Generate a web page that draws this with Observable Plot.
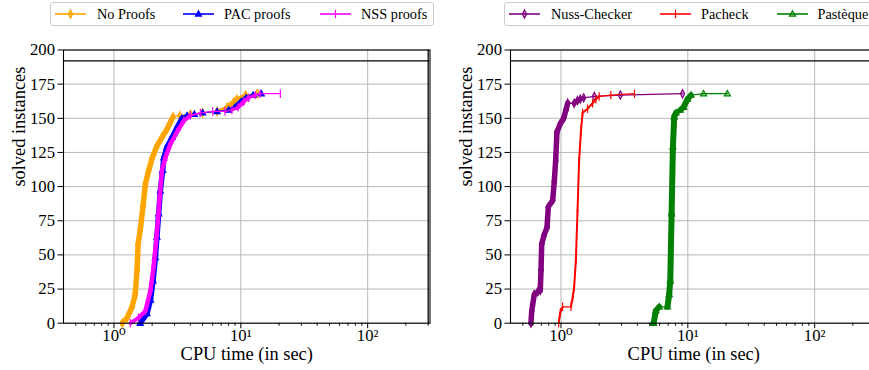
<!DOCTYPE html>
<html><head><meta charset="utf-8">
<script src="https://cdn.jsdelivr.net/npm/d3@7"></script>
<script src="https://cdn.jsdelivr.net/npm/@observablehq/plot@0.6"></script>
<style>
html,body{margin:0;padding:0;width:869px;height:370px;overflow:hidden;background:#fff;font-family:"Liberation Serif","DejaVu Serif",serif;}
.legend{position:absolute;top:2px;height:24px;border:1px solid #cccccc;border-radius:3px;background:#fff;box-sizing:border-box;}
.item{position:absolute;top:2px;height:24px;display:flex;align-items:center;font-size:14.3px;color:#000;white-space:nowrap;font-family:"Liberation Serif","DejaVu Serif",serif;}
.chart{position:absolute;top:40px;width:440px;height:330px;}
.chart svg{max-width:none !important;}
</style></head><body>
<div class="legend" style="left:50px;width:384px"></div>
<div class="legend" style="left:504px;width:420px"></div>
<div id="items"></div>
<div id="c1" class="chart" style="left:0px"></div>
<div id="c2" class="chart" style="left:447px"></div>
<script>
// ---- data (CPU time in sec, solved instances) ----
const noProofsT = [1.16,1.27,1.39,1.47,1.52,1.55,1.61,1.69,1.77,1.88,2.0,2.19,2.39,2.62,2.78,2.92,3.3,4.0,5.0,6.5,7.8,8.8,9.3,10.9,13.5];
const noProofsN = [0,4,12,21,39,58,68,85,102,112,121,130,136,142,147,151,152,153,154,155,158,162,164,167,168];
const pacT = [1.61,1.82,1.94,2.03,2.12,2.18,2.25,2.32,2.42,2.47,2.62,2.87,3.14,3.44,3.77,4.3,5.0,6.5,8.0,9.0,10.0,11.0,12.5,14.5];
const pacN = [0,7,17,31,48,63,80,97,112,121,129,136,143,150,152,153,154,155,156,158,162,165,167,168];
const nssT = [1.35,1.56,1.77,1.94,2.05,2.14,2.22,2.29,2.39,2.54,2.78,3.14,3.54,4.0,4.8,6.0,7.5,8.5,9.5,10.5,11.5,13.0,14.2,20.5];
const nssN = [0,4,9,24,41,58,75,92,112,121,131,140,148,152,154,155,155,156,158,162,165,167,168,168];
const nussT = [0.58,0.588,0.616,0.655,0.687,0.696,0.705,0.739,0.776,0.794,0.86,0.886,0.908,0.93,0.988,1.05,1.095,1.13,1.27,1.35,1.42,1.51,1.83,2.94,9.08];
const nussN = [0,9,21,23,24,39,58,65,70,85,90,104,119,140,146,150,156,161,161,163,164,165,166,167,168];
const pacheckT = [0.958,0.988,1.03,1.2,1.236,1.27,1.31,1.35,1.39,1.437,1.48,1.62,1.775,1.885,2.0,2.47,3.8];
const pacheckN = [0,8,12,12,19,26,46,82,119,141,154,157,161,164,166,167,168];
const pastequeT = [5.37,5.6,5.95,6.91,7.13,7.27,7.45,7.63,7.81,8.06,8.7,9.24,9.95,10.6,13.3,20.5];
const pastequeN = [0,9,12,12,21,31,80,129,151,154,156,158,164,167,168,168];

const yTicks = [0,25,50,75,100,125,150,175,200];
const xMajorTicks = [1,10,100];
const xTickLabels = ["10\u2070","10\u00B9","10\u00B2"];
const totalInstances = 192;
const timeout = 300;
const xLabel = "CPU time (in sec)";
const yLabel = "solved instances";

// ---- custom marker shapes ----
const thinDiamond = {draw(c,s){const r=Math.sqrt(s/Math.PI);c.moveTo(0,-r*1.2);c.lineTo(r*0.6,0);c.lineTo(0,r*1.2);c.lineTo(-r*0.6,0);c.closePath();}};
const vline = {draw(c,s){const r=Math.sqrt(s/Math.PI);c.moveTo(0,-r);c.lineTo(0,r);}};
const tri = {draw(c,s){const r=Math.sqrt(s/Math.PI);c.moveTo(0,-r);c.lineTo(r*0.95,r*0.65);c.lineTo(-r*0.95,r*0.65);c.closePath();}};

const leftSeries = [
  {name:"No Proofs", t:noProofsT, n:noProofsN, color:"orange", sym:thinDiamond, r:3.4, fill:0.6, dense:5.5, thin:1.3},
  {name:"PAC proofs", t:pacT, n:pacN, color:"blue", sym:tri, r:3.2, fill:1, dense:5.5, thin:1.3},
  {name:"NSS proofs", t:nssT, n:nssN, color:"magenta", sym:vline, r:4.2, fill:0, dense:4.5, thin:1.3}
];
const rightSeries = [
  {name:"Nuss-Checker", t:nussT, n:nussN, color:"purple", sym:thinDiamond, r:3.4, fill:0.3, dense:5.5, thin:1.3},
  {name:"Pacheck", t:pacheckT, n:pacheckN, color:"red", sym:vline, r:4.2, fill:0, dense:2, thin:1.3},
  {name:"Pastèque", t:pastequeT, n:pastequeN, color:"green", sym:tri, r:3.2, fill:0.3, dense:6, thin:1.3}
];

// ---- legends ----
const legendLayout = [
  {s:leftSeries[0], lx:55, tx:97}, {s:leftSeries[1], lx:183, tx:224}, {s:leftSeries[2], lx:320, tx:361},
  {s:rightSeries[0], lx:509, tx:551}, {s:rightSeries[1], lx:660, tx:701}, {s:rightSeries[2], lx:777, tx:817.5}
];
const itemsDiv = document.getElementById("items");
for (const L of legendLayout) {
  const s = L.s;
  const p = d3.path(); s.sym.draw(p, s.r*s.r*Math.PI);
  const svg = `<svg width="32" height="24" style="position:absolute;left:${L.lx}px;top:2px"><line x1="0" x2="31" y1="12" y2="12" stroke="${s.color}" stroke-width="1.6"/><path transform="translate(15.5,12)" d="${p.toString()}" stroke="${s.color}" stroke-width="1.2" fill="${s.fill>0?s.color:'none'}" fill-opacity="${s.fill}"/></svg>`;
  itemsDiv.insertAdjacentHTML("beforeend", svg + `<div class="item" style="left:${L.tx}px">${s.name}</div>`);
}

// ---- charts ----
function chart(series, withTimeout) {
  const W = 440, H = 330, mL = 63, mR = 10.5, mT = 9.5, mB = 47.3;
  const domain = [0.4, 310];
  const minor = [];
  for (const d of [0.1,1,10,100]) for (let k=2;k<=9;k++){const v=d*k; if (v>domain[0] && v<domain[1]) minor.push(v);}
  const kx = (W-mL-mR)/Math.log10(domain[1]/domain[0]);
  const ky = (H-mT-mB)/200;
  const labelMap = new Map(xMajorTicks.map((d,i)=>[d,xTickLabels[i]]));
  const marks = [
    Plot.ruleX(xMajorTicks, {stroke:"#b0b0b0", strokeWidth:0.9}),
    Plot.ruleY(yTicks, {stroke:"#b0b0b0", strokeWidth:0.9}),
    Plot.ruleY([totalInstances], {stroke:"black", strokeWidth:1.3})
  ];
  if (withTimeout) marks.push(Plot.ruleX([timeout], {stroke:"black", strokeWidth:1.3}));
  for (const s of series) {
    const segs = [];
    for (let i=0;i<s.t.length-1;i++){
      const dx = Math.abs(Math.log10(s.t[i+1]/s.t[i]))*kx, dn = Math.abs(s.n[i+1]-s.n[i]);
      const len = Math.hypot(dx, dn*ky);
      const spacing = dn>0 ? len/dn : Infinity;
      const f = Math.max(0, Math.min(1, (6-spacing)/4.5));
      segs.push({x1:s.t[i], y1:s.n[i], x2:s.t[i+1], y2:s.n[i+1], w: s.thin + (s.dense-s.thin)*f});
    }
    marks.push(Plot.link(segs, {x1:"x1", y1:"y1", x2:"x2", y2:"y2", stroke:s.color, strokeWidth:"w", strokeLinecap:"round"}));
    const pts = s.t.map((t,i)=>({t, n:s.n[i]}));
    marks.push(Plot.dot(pts, {x:"t", y:"n", symbol:s.sym, r:s.r, stroke:s.color, strokeWidth:1.2, fill: s.fill>0 ? s.color : "none", fillOpacity:s.fill}));
  }
  marks.push(
    Plot.axisX(minor, {tickSize:3, tickFormat:()=>"", label:null}),
    Plot.axisX(xMajorTicks, {tickSize:5.5, tickPadding:0, tickFormat:d=>labelMap.get(d), label:null, fontSize:16.7}),
    Plot.axisY(yTicks, {tickSize:5.5, tickPadding:3, label:null, fontSize:16.7}),
    Plot.text([xLabel], {frameAnchor:"bottom", dy:36.5, fontSize:18.4, text:d=>d}),
    Plot.text([yLabel], {frameAnchor:"left", dx:-44, rotate:-90, fontSize:18.4, text:d=>d}),
    Plot.frame({stroke:"black", strokeWidth:1.1})
  );
  return Plot.plot({
    width:W, height:H, marginLeft:mL, marginRight:mR, marginTop:mT, marginBottom:mB,
    x:{type:"log", domain},
    y:{domain:[0,200]},
    style:"font-family:'Liberation Serif','DejaVu Serif',serif;font-size:16.7px;color:black;background:transparent;overflow:visible;max-width:none;",
    marks
  });
}
document.getElementById("c1").append(chart(leftSeries, true));
document.getElementById("c2").append(chart(rightSeries, false));
</script>
</body></html>
